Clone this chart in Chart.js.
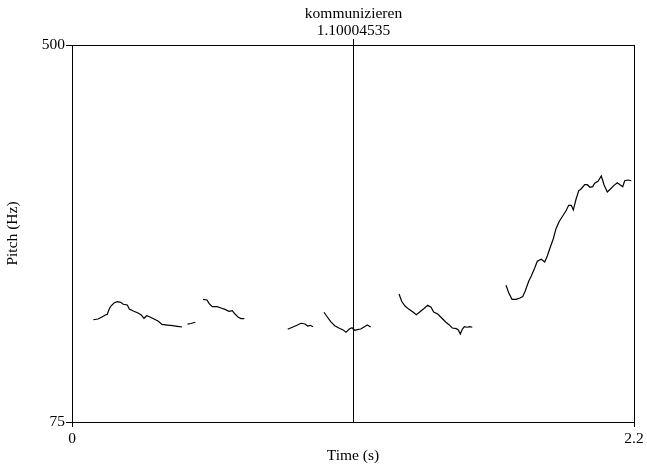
<!DOCTYPE html>
<html>
<head>
<meta charset="utf-8">
<script src="https://cdn.jsdelivr.net/npm/chart.js@4/dist/chart.umd.min.js"></script>
<style>
html,body{margin:0;padding:0;background:#fff;}
#wrap{position:relative;width:647px;height:466px;}
</style>
</head>
<body>
<div id="wrap"><canvas id="c" width="647" height="466"></canvas></div>
<script>
// ---- data (time in s, pitch in Hz) ----
const seg1T = [0.0834,0.1018,0.1174,0.1304,0.1382,0.1437,0.1515,0.1644,0.1773,0.1906,0.2008,0.2165,0.2243,0.2400,0.2584,0.2713,0.2819,0.2924,0.3053,0.3210,0.3367,0.3523,0.3731,0.3942,0.4122,0.4306];
const seg1F = [190.3,191.1,193.4,195.6,196.4,200.9,205.4,209.1,210.6,209.9,207.7,206.9,202.4,200.1,197.9,195.6,191.9,194.8,193.4,191.1,188.9,185.1,184.3,183.6,182.9,182.1];
const seg2T = [0.4521,0.4658,0.4827];
const seg2F = [185.3,186.0,187.5];
const seg3T = [0.5128,0.5285,0.5363,0.5492,0.5676,0.5833,0.5989,0.6146,0.6275,0.6381,0.6510,0.6616,0.6745];
const seg3F = [213.3,212.5,208.8,205.0,205.0,203.5,202.0,199.8,200.5,196.7,193.0,191.5,191.5];
const seg4T = [0.8444,0.8624,0.8808,0.8965,0.9121,0.9227,0.9329,0.9434];
const seg4F = [179.5,181.8,184.0,186.3,185.5,183.2,184.0,182.4];
const seg5T = [0.9865,0.9994,1.0127,1.0284,1.0464,1.0597,1.0726,1.0855,1.0961,1.1067,1.1168,1.1302,1.1431,1.1560,1.1693];
const seg5F = [198.7,193.4,188.1,183.6,180.6,179.1,176.1,179.8,181.3,178.4,179.1,179.8,182.1,184.3,182.1];
const seg6T = [1.2801,1.2906,1.3036,1.3192,1.3349,1.3478,1.3611,1.3768,1.3924,1.4054,1.4159,1.4316,1.4472,1.4629,1.4758,1.4888,1.5044,1.5122,1.5201,1.5279,1.5357,1.5463,1.5568,1.5670];
const seg6F = [219.3,211.1,205.8,202.0,199.0,196.0,199.0,202.7,206.6,204.3,199.0,196.7,192.2,187.7,184.7,181.0,180.2,178.7,174.2,179.5,182.4,181.8,182.4,181.8];
const seg7T = [1.6990,1.7095,1.7224,1.7381,1.7537,1.7643,1.7745,1.7878,1.7980,1.8113,1.8215,1.8371,1.8505,1.8606,1.8739,1.8841,1.8947,1.9076,1.9209,1.9338,1.9444,1.9546,1.9624,1.9730,1.9835,1.9937,2.0070,2.0172,2.0278,2.0384,2.0462,2.0591,2.0720,2.0826,2.0955,2.1088,2.1217,2.1347,2.1452,2.1558,2.1636,2.1765,2.1894];
const seg7F = [229.1,220.8,213.3,213.3,214.8,216.3,223.0,233.6,239.6,248.6,256.2,258.4,255.4,262.1,273.4,281.6,292.9,301.3,307.2,313.2,319.3,319.3,314.0,326.1,335.7,338.0,342.5,342.5,339.6,340.3,344.1,346.3,352.3,342.5,334.3,338.0,341.8,344.8,342.5,340.3,347.0,347.8,347.0];

const xTicks = [0, 2.2];
const xTickLabels = ['0', '2.2'];
const yTicks = [75, 500];
const yTickLabels = ['75', '500'];
const cursorTime = 1.10004535;
const cursorLabel = '1.10004535';
const wordLabel = 'kommunizieren';
const xTitle = 'Time (s)';
const yTitle = 'Pitch (Hz)';

const segments = [[seg1T,seg1F],[seg2T,seg2F],[seg3T,seg3F],[seg4T,seg4F],[seg5T,seg5F],[seg6T,seg6F],[seg7T,seg7F]];

const FONT = {family: '"Liberation Serif", "Times New Roman", serif', size: 15.5};

const datasets = segments.map(([t, f]) => ({
  data: t.map((v, i) => ({x: v, y: f[i]})),
  borderColor: '#000',
  borderWidth: 1.2,
  pointRadius: 0,
  tension: 0,
  fill: false
}));

const framePlugin = {
  id: 'frame',
  afterDatasetsDraw(chart) {
    const ctx = chart.ctx, a = chart.chartArea;
    const xs = chart.scales.x;
    ctx.save();
    ctx.strokeStyle = '#000';
    ctx.lineWidth = 1;
    ctx.strokeRect(Math.round(a.left) + 0.5, Math.round(a.top) + 0.5, Math.round(a.right - a.left), Math.round(a.bottom - a.top));
    const cx = Math.round(xs.getPixelForValue(cursorTime)) + 0.5;
    ctx.beginPath();
    ctx.moveTo(cx, a.bottom);
    ctx.lineTo(cx, a.top - 6);
    ctx.stroke();
    ctx.fillStyle = '#000';
    ctx.font = FONT.size + 'px ' + FONT.family;
    ctx.textAlign = 'center';
    ctx.textBaseline = 'middle';
    ctx.fillText(cursorLabel, cx, a.top - 14);
    ctx.fillText(wordLabel, cx, a.top - 31);
    ctx.restore();
  }
};

new Chart(document.getElementById('c'), {
  type: 'line',
  data: {datasets},
  options: {
    responsive: false,
    animation: false,
    devicePixelRatio: 1,
    layout: {padding: {top: 45, right: 13, left: 0, bottom: 0}},
    plugins: {legend: {display: false}, tooltip: {enabled: false}, title: {display: false}},
    scales: {
      x: {
        type: 'linear', min: 0, max: 2.2,
        afterFit(s) { s.height = 44; },
        afterBuildTicks(s) { s.ticks = xTicks.map(v => ({value: v})); },
        ticks: {
          autoSkip: false, maxRotation: 0, color: '#000', font: FONT, padding: 3,
          callback: (v) => xTickLabels[xTicks.indexOf(v)] ?? ''
        },
        grid: {drawOnChartArea: false, drawTicks: true, tickLength: 5, color: '#000'},
        border: {display: true, color: '#000', width: 1},
        title: {display: true, text: xTitle, color: '#000', font: FONT, padding: {top: 0, bottom: 1}}
      },
      y: {
        type: 'linear', min: 75, max: 500,
        afterFit(s) { s.width = 72; },
        afterBuildTicks(s) { s.ticks = yTicks.map(v => ({value: v})); },
        ticks: {
          autoSkip: false, color: '#000', font: FONT, padding: 1,
          callback: (v) => yTickLabels[yTicks.indexOf(v)] ?? ''
        },
        grid: {drawOnChartArea: false, drawTicks: true, tickLength: 6, color: '#000'},
        border: {display: true, color: '#000', width: 1},
        title: {display: true, text: yTitle, color: '#000', font: FONT, padding: {top: 4, bottom: 0}}
      }
    }
  },
  plugins: [framePlugin]
});
</script>
</body>
</html>
